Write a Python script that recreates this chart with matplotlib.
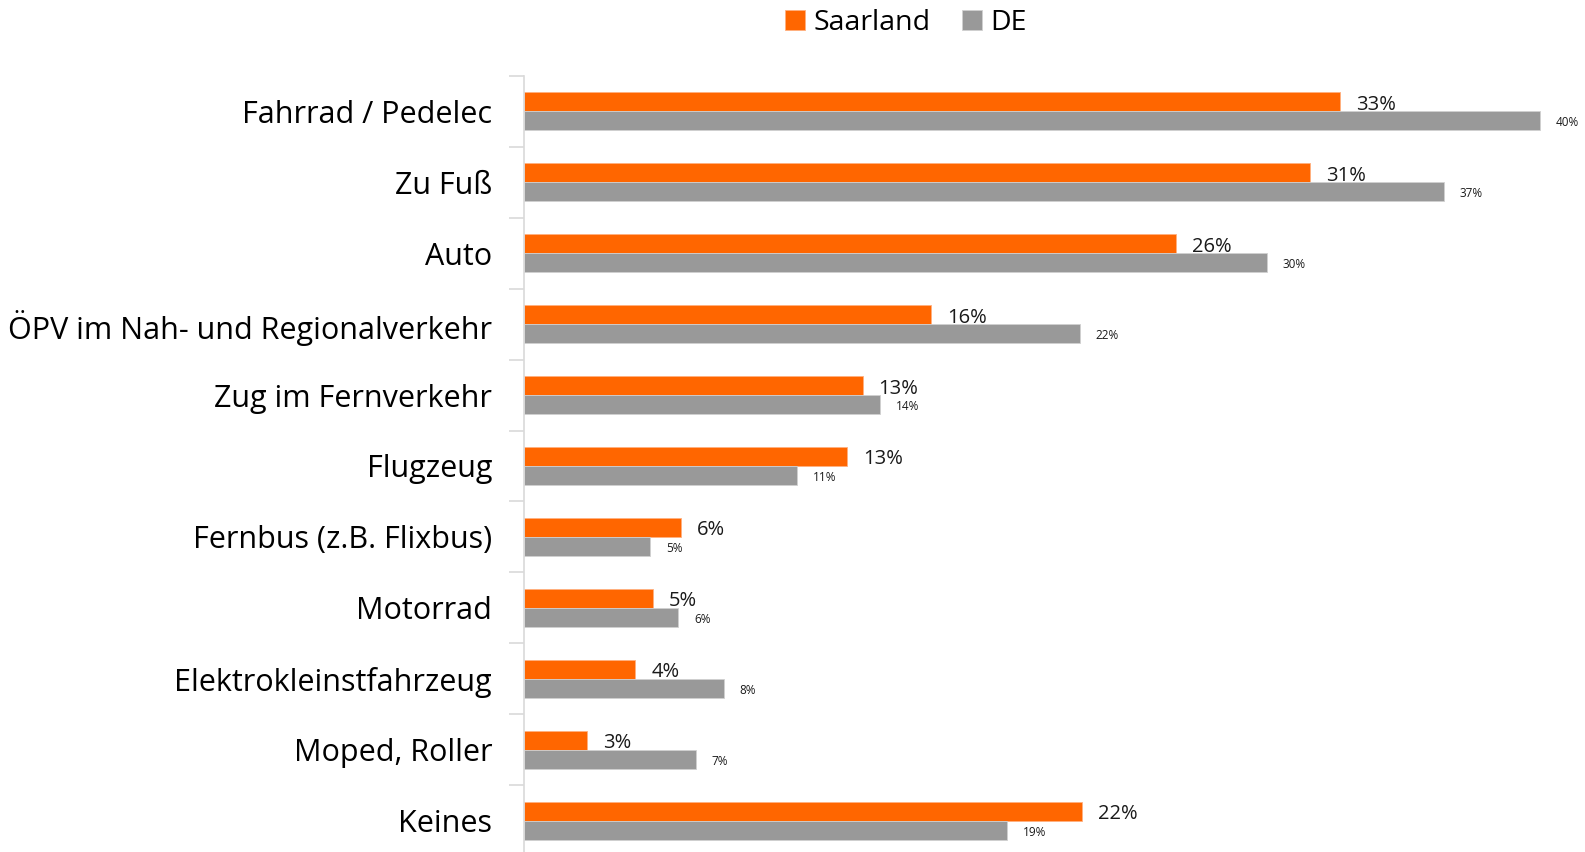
import matplotlib.pyplot as plt
import numpy as np

categories = ["Fahrrad / Pedelec", "Zu Fuß", "Auto", "ÖPV im Nah- und Regionalverkehr",
              "Zug im Fernverkehr", "Flugzeug", "Fernbus (z.B. Flixbus)", "Motorrad",
              "Elektrokleinstfahrzeug", "Moped, Roller", "Keines"]
# bar lengths (percent)
saarland = [32.3, 31.1, 25.8, 16.1, 13.4, 12.8, 6.2, 5.1, 4.4, 2.5, 22.1]
de = [40.2, 36.4, 29.4, 22.0, 14.1, 10.8, 5.0, 6.1, 7.9, 6.8, 19.1]
# printed labels
saarland_labels = ["33%", "31%", "26%", "16%", "13%", "13%", "6%", "5%", "4%", "3%", "22%"]
de_labels = ["40%", "37%", "30%", "22%", "14%", "11%", "5%", "6%", "8%", "7%", "19%"]

plt.rcParams['font.family'] = ['Open Sans', 'DejaVu Sans']

W, H = 1585, 852
fig = plt.figure(figsize=(W / 100, H / 100), dpi=100)
ax = fig.add_axes([524 / W, -4 / H, 1061 / W, 780 / H])

y = np.arange(len(categories))
h = 0.268
b1 = ax.barh(y - h / 2, saarland, h, color='#FF6600', edgecolor='#FFB080', linewidth=0.6, label='Saarland')
b2 = ax.barh(y + h / 2, de, h, color='#999999', edgecolor='#D0D0D0', linewidth=0.6, label='DE')

for rect, txt in zip(b1, saarland_labels):
    ax.annotate(txt, xy=(rect.get_width(), rect.get_y() + rect.get_height() / 2),
                xytext=(16, -3), textcoords='offset pixels', va='center', ha='left',
                fontsize=14.5, color='#1a1a1a')
for rect, txt in zip(b2, de_labels):
    ax.annotate(txt, xy=(rect.get_width(), rect.get_y() + rect.get_height() / 2),
                xytext=(16, -2), textcoords='offset pixels', va='center', ha='left',
                fontsize=8.5, color='#1a1a1a')

ax.set_xlim(0, 42)
ax.set_ylim(len(categories) - 0.5, -0.5)
ax.set_xticks([])

# category labels between the boundary ticks
ax.set_yticks(np.arange(len(categories) + 1) - 0.5)
ax.set_yticklabels([])
ax.set_yticks(y, minor=True)
ax.set_yticklabels(categories, minor=True, fontsize=22, color='#000000')
ax.tick_params(axis='y', which='major', length=11, color='#D9D9D9', width=1.2)
ax.tick_params(axis='y', which='minor', length=0, pad=23)

for s in ['top', 'right', 'bottom']:
    ax.spines[s].set_visible(False)
ax.spines['left'].set_color('#D9D9D9')
ax.spines['left'].set_linewidth(1.2)

fig.legend(handles=[b1, b2], loc='upper center', bbox_to_anchor=(0.5716, 1.02), ncol=2,
           frameon=False, fontsize=20.5, handlelength=0.7, handleheight=0.7,
           handletextpad=0.3, columnspacing=1.1)

fig.savefig('out.png', dpi=100)
